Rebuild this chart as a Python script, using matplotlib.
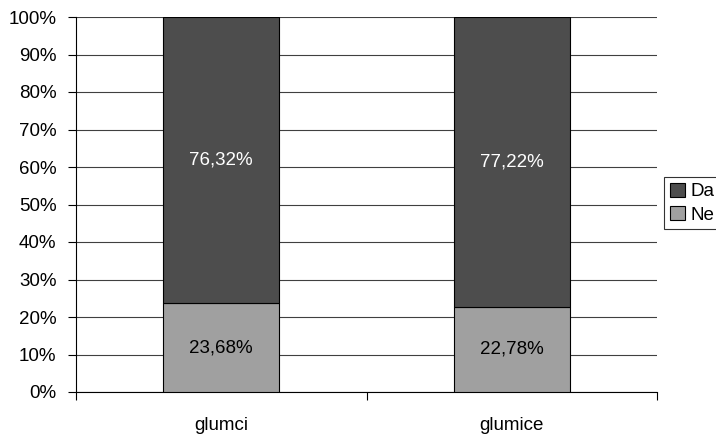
import matplotlib.pyplot as plt
from matplotlib.ticker import FixedLocator

categories = ['glumci', 'glumice']
ne = [23.68, 22.78]
da = [76.32, 77.22]
yticks = [0, 10, 20, 30, 40, 50, 60, 70, 80, 90, 100]

plt.rcParams['font.family'] = ['Liberation Sans', 'DejaVu Sans']
fs = 13.5

fig = plt.figure(figsize=(7.16, 4.34), dpi=100)
ax = fig.add_axes([76/716, 42/434, 581/716, 375/434])

x = range(len(categories))
b_ne = ax.bar(x, ne, width=0.4, color='#a0a0a0', edgecolor='black', linewidth=0.8, label='Ne', zorder=3)
b_da = ax.bar(x, da, width=0.4, bottom=ne, color='#4d4d4d', edgecolor='black', linewidth=0.8, label='Da', zorder=3)

for i in x:
    ax.text(i, ne[i] / 2, f"{ne[i]:.2f}%".replace('.', ','), ha='center', va='center',
            fontsize=fs, color='black', zorder=4)
    ax.text(i, ne[i] + da[i] / 2, f"{da[i]:.2f}%".replace('.', ','), ha='center', va='center',
            fontsize=fs, color='white', zorder=4)

ax.set_xlim(-0.5, len(categories) - 0.5)
ax.set_ylim(0, 100)
ax.set_yticks(yticks)
ax.set_yticklabels([f"{v}%" for v in yticks], fontsize=fs)
ax.yaxis.grid(True, color='#404040', linewidth=0.8, zorder=0)

ax.set_xticks(list(x))
ax.set_xticklabels(categories, fontsize=fs)
ax.xaxis.set_minor_locator(FixedLocator([-0.5, 0.5, 1.5]))
ax.tick_params(axis='x', which='major', length=0, pad=18)
ax.tick_params(axis='x', which='minor', length=6, width=0.8)
ax.tick_params(axis='y', length=6, width=0.8, pad=8)

for s in ['top', 'right']:
    ax.spines[s].set_visible(False)
for s in ['left', 'bottom']:
    ax.spines[s].set_linewidth(0.8)

leg = fig.legend(handles=[b_da, b_ne], labels=['Da', 'Ne'], loc='upper left',
                 bbox_to_anchor=(664/716, 1 - 177/434), fontsize=fs, frameon=True,
                 fancybox=False, edgecolor='black', borderpad=0.3, handlelength=0.8,
                 handleheight=0.8, handletextpad=0.3, labelspacing=0.3, borderaxespad=0)
leg.get_frame().set_linewidth(0.8)

fig.savefig('out.png', dpi=100)
